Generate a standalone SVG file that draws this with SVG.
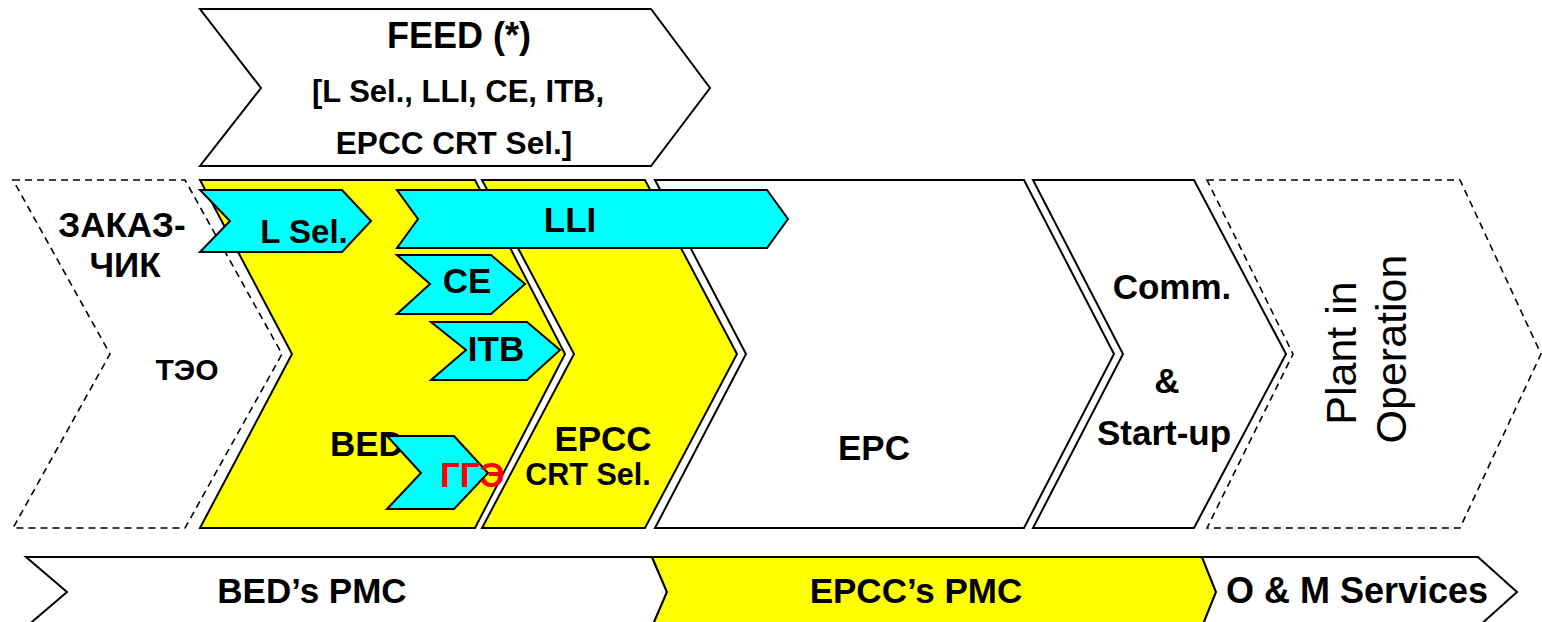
<svg xmlns="http://www.w3.org/2000/svg" width="1542" height="622" viewBox="0 0 1542 622">
<style>
.w{fill:#ffffff;stroke:#000;stroke-width:2;stroke-linejoin:miter}
.d{fill:#ffffff;stroke:#000;stroke-width:1.6;stroke-dasharray:7 5}
.y{fill:#ffff00;stroke:#000;stroke-width:2}
.c{fill:#00ffff;stroke:#000;stroke-width:2}
text{font-family:"Liberation Sans",Arial,sans-serif;font-weight:bold;font-size:35px;fill:#000;text-anchor:middle}
.r{font-weight:normal;font-size:43px}
</style>
<rect width="1542" height="622" fill="#ffffff"/>
<g id="teo"><polygon class="d" points="13,180 185,180 282,354 185,528 13,528 110,354"/>
<text x="122" y="237">ЗАКАЗ-</text><text x="125" y="277">ЧИК</text>
<text x="187" y="380" style="font-size:30px">ТЭО</text></g>
<g id="bed"><polygon class="y" points="200,180 475,180 565,354 475,528 200,528 292,354"/></g>
<g id="epcc"><polygon class="y" points="482,180 645,180 737,354 645,528 482,528 574,354"/>
<text x="603" y="451">EPCC</text><text x="588" y="485" style="font-size:30.5px">CRT Sel.</text></g>
<g id="epc"><polygon class="w" points="655,180 1024,180 1114,354 1024,528 655,528 746,354"/>
<text x="874" y="460">EPC</text></g>
<g id="comm"><polygon class="w" points="1033,180 1194,180 1286,354 1194,528 1033,528 1123,354"/>
<text x="1172" y="299">Comm.</text><text x="1167" y="393">&amp;</text><text x="1164" y="445">Start-up</text></g>
<g id="plant"><polygon class="d" points="1207,180 1460,180 1541,354 1460,528 1207,528 1293,354"/>
<text class="r" transform="translate(1356,353) rotate(-90)">Plant in</text>
<text class="r" transform="translate(1406,349) rotate(-90)">Operation</text></g>
<g id="feed"><polygon class="w" points="200,9 651,9 710,88 651,166 200,166 261,88"/>
<text x="459" y="48" style="font-size:36px">FEED (*)</text>
<text x="458" y="102" style="font-size:31px">[L Sel., LLI, CE, ITB,</text>
<text x="454" y="154" style="font-size:31.5px">EPCC CRT Sel.]</text></g>
<g id="lsel"><polygon class="c" points="200,190 342,190 371,221 342,252 200,252 230,221"/>
<text x="304" y="243" style="font-size:33px">L Sel.</text></g>
<g id="lli"><polygon class="c" points="397,190 767,190 788,219 767,248 397,248 418,219"/>
<text x="570" y="232">LLI</text></g>
<g id="ce"><polygon class="c" points="397,255 491,255 525,284 491,314 397,314 430,284"/>
<text x="467" y="293">CE</text></g>
<g id="itb"><polygon class="c" points="431,322 527,322 560,350 527,380 431,380 466,350"/>
<text x="496" y="361">ITB</text></g>
<g id="bedlabel"><text x="330" y="456" style="text-anchor:start">BED</text></g>
<g id="gge"><polygon class="c" points="387,436 454,436 488,473 454,509 387,509 421,473"/>
<text x="440" y="487" style="text-anchor:start;fill:#ff0000">ГГЭ</text></g>
<g id="bedpmc"><polygon class="w" points="26,557 652,557 667,592 652,627 26,627 67,592"/>
<text x="312" y="603">BED’s PMC</text></g>
<g id="epccpmc"><polygon class="y" points="652,557 1202,557 1216,592 1202,627 652,627 667,592"/>
<text x="916" y="603">EPCC’s PMC</text></g>
<g id="om"><polygon class="w" points="1202,557 1478,557 1517,592 1478,627 1202,627 1216,592"/>
<text x="1357" y="603" style="font-size:36px">O &amp; M Services</text></g>
<g id="connectors"></g>
</svg>
